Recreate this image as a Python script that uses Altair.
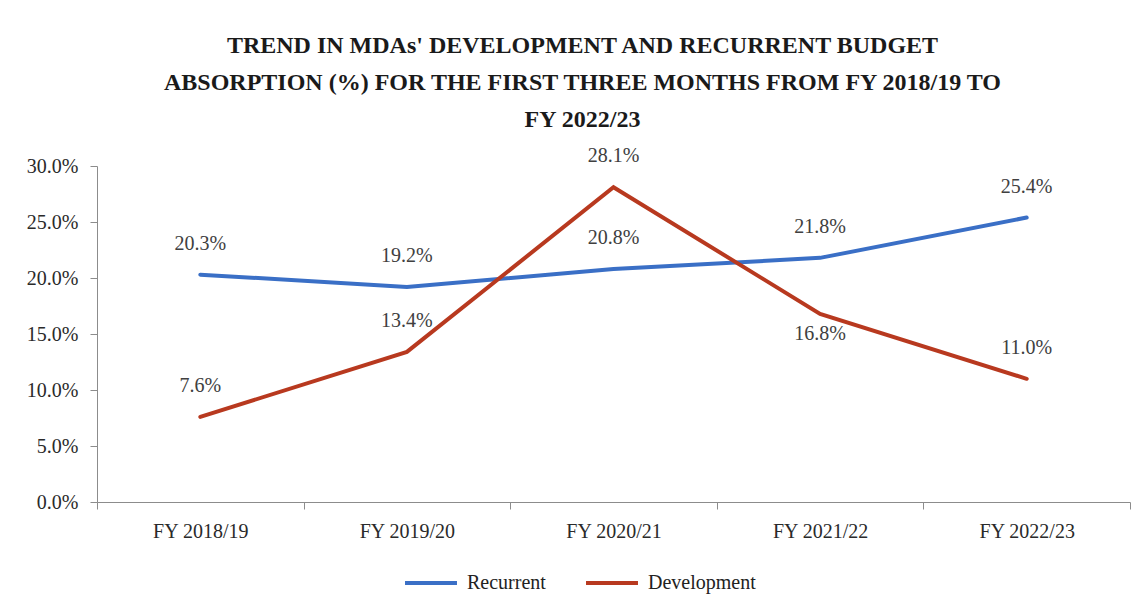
import altair as alt
import pandas as pd

years = ["FY 2018/19", "FY 2019/20", "FY 2020/21", "FY 2021/22", "FY 2022/23"]
recurrent = [20.3, 19.2, 20.8, 21.8, 25.4]
development = [7.6, 13.4, 28.1, 16.8, 11.0]
dev_label_side = ["above", "above", "above", "below", "above"]
rec_label_side = ["above", "above", "above", "above", "above"]
series = ["Recurrent", "Development"]
colors = ["#3a6fc6", "#b8391f"]

rows = []
for i, y in enumerate(years):
    rows.append({"year": y, "series": "Recurrent", "value": recurrent[i] / 100, "side": rec_label_side[i]})
for i, y in enumerate(years):
    rows.append({"year": y, "series": "Development", "value": development[i] / 100, "side": dev_label_side[i]})
df = pd.DataFrame(rows)

FONT = "Liberation Serif"

x_enc = alt.X("year:N", sort=years, bandPosition=0.5,
              scale=alt.Scale(type="band", paddingInner=0, paddingOuter=0),
              axis=alt.Axis(title=None, labelAngle=0, tickBand="extent", labelPadding=12,
                            labelFontSize=20, labelFont=FONT, labelColor="#2a2a2a",
                            domainColor="#8c8c8c", tickColor="#8c8c8c", tickSize=7, grid=False))
y_enc = alt.Y("value:Q", scale=alt.Scale(domain=[0, 0.30]),
              axis=alt.Axis(title=None, format=".1%", values=[0, 0.05, 0.10, 0.15, 0.20, 0.25, 0.30],
                            labelFontSize=20, labelFont=FONT, labelColor="#2a2a2a", labelPadding=12,
                            domainColor="#8c8c8c", tickColor="#8c8c8c", tickSize=7, grid=False))

base = alt.Chart(df)

lines = base.mark_line(strokeWidth=4, strokeCap="round").encode(
    x=x_enc, y=y_enc,
    color=alt.Color("series:N", scale=alt.Scale(domain=series, range=colors),
                    legend=alt.Legend(title=None, orient="none", direction="horizontal",
                                      legendX=306, legendY=389,
                                      symbolType="stroke", symbolSize=2700, symbolStrokeWidth=4,
                                      labelFontSize=20, labelFont=FONT, labelColor="#222222",
                                      labelOffset=8, columnPadding=32)),
    detail="series:N",
)

text_above = base.transform_filter(alt.datum.side == "above").mark_text(
    dy=-31, fontSize=20, font=FONT, color="#404040", baseline="middle"
).encode(x=x_enc, y=y_enc, text=alt.Text("value:Q", format=".1%"))

text_below = base.transform_filter(alt.datum.side == "below").mark_text(
    dy=20, fontSize=20, font=FONT, color="#404040", baseline="middle"
).encode(x=x_enc, y=y_enc, text=alt.Text("value:Q", format=".1%"))

chart = alt.layer(lines, text_above, text_below).properties(
    width=1033, height=336,
    autosize="none",
    padding={"left": 89, "top": 158, "right": 9, "bottom": 100},
    title=alt.TitleParams(
        ["TREND IN MDAs' DEVELOPMENT AND RECURRENT BUDGET",
         "ABSORPTION (%) FOR THE FIRST THREE MONTHS FROM FY 2018/19  TO",
         "FY 2022/23"],
        font=FONT, fontSize=24, fontWeight="bold", color="#1a1a1a",
        anchor="middle", frame="group", dx=-31, offset=-10, lineHeight=37, baseline="bottom",
    ),
).configure(background="white", font=FONT).configure_view(stroke=None)

chart.save("out.html", embed_options={"renderer": "svg", "actions": False})
